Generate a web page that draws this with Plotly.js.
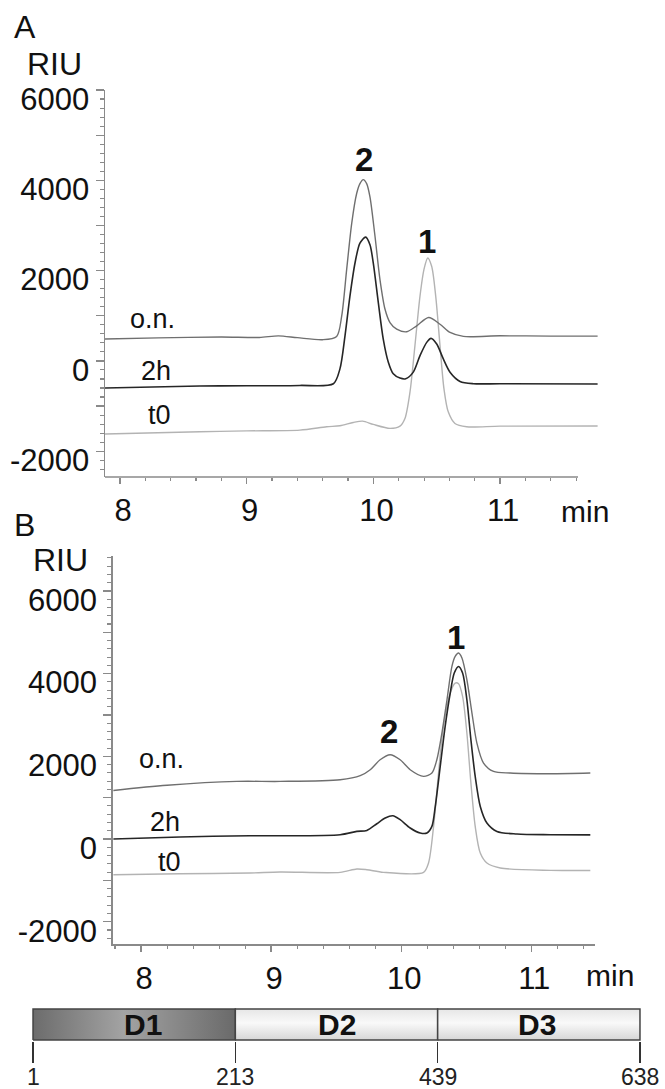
<!DOCTYPE html>
<html>
<head>
<meta charset="utf-8">
<script src="https://cdn.plot.ly/plotly-3.0.1.min.js"></script>
<style>html,body{margin:0;padding:0;background:#fff;}#chart{width:665px;height:1089px;}</style>
</head>
<body>
<div id="chart"></div>
<script>
// ---------- Panel A data (time in min, signal in RIU) ----------
var tA_on = [7.88, 8.3, 8.8, 9.1, 9.25, 9.4, 9.6, 9.71, 9.75, 9.789, 9.829, 9.868, 9.894, 9.92, 9.947, 9.973, 10.013, 10.052, 10.092, 10.131, 10.184, 10.263, 10.342, 10.436, 10.526, 10.605, 10.71, 11.0, 11.4, 11.77];
var vA_on = [484, 510, 530, 520, 555, 515, 470, 543, 996, 2022, 3048, 3707, 3927, 4015, 3927, 3634, 2755, 1802, 1143, 850, 703, 645, 777, 960, 813, 630, 543, 556, 550, 550];

var tA_2h = [7.88, 8.63, 9.0, 9.42, 9.684, 9.736, 9.776, 9.815, 9.855, 9.894, 9.939, 9.973, 9.999, 10.039, 10.078, 10.118, 10.157, 10.21, 10.255, 10.315, 10.368, 10.421, 10.455, 10.5, 10.552, 10.605, 10.684, 10.789, 11.0, 11.77];
var vA_2h = [-600, -556, -550, -543, -505, -176, 556, 1435, 2169, 2609, 2741, 2572, 2169, 1290, 484, -29, -286, -381, -396, -249, 117, 411, 499, 374, 44, -249, -454, -505, -505, -510];

var tA_t0 = [7.88, 8.63, 9.0, 9.42, 9.631, 9.736, 9.841, 9.915, 9.999, 10.131, 10.21, 10.249, 10.289, 10.328, 10.368, 10.399, 10.429, 10.46, 10.492, 10.526, 10.557, 10.591, 10.644, 10.736, 11.0, 11.77];
var vA_t0 = [-1620, -1568, -1550, -1532, -1458, -1436, -1363, -1334, -1407, -1495, -1444, -1275, -689, 337, 1435, 2022, 2279, 2095, 1435, 337, -615, -1128, -1385, -1458, -1444, -1440];

// ---------- Panel B data ----------
var tB_on = [7.787, 8.2, 8.736, 9.069, 9.531, 9.685, 9.762, 9.838, 9.915, 9.992, 10.069, 10.172, 10.236, 10.274, 10.313, 10.352, 10.39, 10.415, 10.441, 10.467, 10.505, 10.544, 10.582, 10.633, 10.71, 10.838, 11.146, 11.454];
var vB_on = [1175, 1300, 1393, 1393, 1434, 1531, 1676, 1917, 2038, 1917, 1676, 1514, 1596, 1917, 2563, 3368, 4174, 4415, 4498, 4377, 3852, 3047, 2321, 1838, 1635, 1596, 1579, 1596];

var tB_2h = [7.787, 8.3, 8.838, 9.069, 9.531, 9.659, 9.736, 9.813, 9.877, 9.936, 9.992, 10.069, 10.146, 10.198, 10.236, 10.262, 10.3, 10.338, 10.377, 10.408, 10.441, 10.472, 10.505, 10.536, 10.569, 10.608, 10.659, 10.736, 10.89, 11.146, 11.454];
var vB_2h = [0, 50, 80, 80, 104, 184, 208, 370, 508, 563, 467, 266, 145, 145, 305, 788, 1755, 2723, 3530, 4014, 4174, 4014, 3368, 2401, 1514, 788, 387, 184, 121, 104, 100];

var tB_t0 = [7.787, 8.3, 8.838, 9.069, 9.531, 9.659, 9.736, 9.864, 10.172, 10.21, 10.249, 10.287, 10.325, 10.377, 10.415, 10.441, 10.472, 10.505, 10.536, 10.569, 10.608, 10.659, 10.762, 11.146, 11.454];
var vB_t0 = [-863, -840, -822, -798, -806, -725, -742, -806, -806, -580, 305, 1596, 2723, 3530, 3772, 3755, 3448, 2563, 1354, 305, -339, -580, -701, -759, -760];

// ---------- Tick labels ----------
var xTickVals = [8, 9, 10, 11];
var yTickVals = [-2000, -1000, 0, 1000, 2000, 3000, 4000, 5000, 6000];
var yTickText = ['-2000', '', '0', '', '2000', '', '4000', '', '6000'];

// ---------- Domain bar ----------
var domainNames = ['D1', 'D2', 'D3'];
var domainBounds = ['1', '213', '439', '638'];

var W = 665, H = 1089;
function px(x) { return x / W; }
function py(y) { return 1 - y / H; }

var FONT = 'Liberation Sans, Arial, Helvetica, sans-serif';
var C_ON = '#6f6f6f', C_2H = '#262626', C_T0 = '#b3b3b3';

var traces = [];
function line(t, v, color, w, xa, ya) {
  return {x: t, y: v, xaxis: xa, yaxis: ya, type: 'scatter', mode: 'lines',
    line: {color: color, width: w, shape: 'spline', smoothing: 0.8},
    hoverinfo: 'skip', showlegend: false};
}
traces.push(line(tA_t0, vA_t0, C_T0, 1.4, 'x', 'y'));
traces.push(line(tA_on, vA_on, C_ON, 1.4, 'x', 'y'));
traces.push(line(tA_2h, vA_2h, C_2H, 1.6, 'x', 'y'));
traces.push(line(tB_t0, vB_t0, C_T0, 1.4, 'x2', 'y2'));
traces.push(line(tB_on, vB_on, C_ON, 1.4, 'x2', 'y2'));
traces.push(line(tB_2h, vB_2h, C_2H, 1.6, 'x2', 'y2'));

// domain boxes
var grads = [
  {type: 'horizontal', colorscale: [[0, '#6c6c6c'], [0.45, '#a3a3a3'], [1, '#6a6a6a']]},
  {type: 'vertical', colorscale: [[0, '#d6d6d6'], [0.55, '#f9f9f9'], [1, '#e6e6e6']]},
  {type: 'vertical', colorscale: [[0, '#d6d6d6'], [0.55, '#f9f9f9'], [1, '#e6e6e6']]}
];
domainNames.forEach(function (n, i) {
  traces.push({
    x: [i - 0.5, i + 0.5, i + 0.5, i - 0.5, i - 0.5], y: [0, 0, 1, 1, 0],
    xaxis: 'x3', yaxis: 'y3', type: 'scatter', mode: 'lines', fill: 'toself',
    fillgradient: grads[i], fillcolor: i === 0 ? '#8a8a8a' : '#efefef',
    line: {color: '#444', width: 1.5}, hoverinfo: 'skip', showlegend: false
  });
});

var tickFont = {family: FONT, size: 31, color: '#111'};
function xax(domain, range) {
  return {domain: domain, range: range, showgrid: false, zeroline: false,
    showline: true, linecolor: '#8a8a8a', linewidth: 1.5,
    tickmode: 'array', tickvals: xTickVals, ticks: 'outside', ticklen: 6,
    tickcolor: '#8a8a8a', tickwidth: 1.3, tickfont: tickFont,
    ticklabelshift: 3, ticklabelstandoff: 0,
    minor: {tickmode: 'linear', tick0: 0, dtick: 0.2, ticks: 'outside', ticklen: 3,
      tickcolor: '#8a8a8a', tickwidth: 1.1, showgrid: false}};
}
function yax(domain, range, anchor) {
  return {domain: domain, range: range, anchor: anchor, showgrid: false, zeroline: false,
    showline: true, linecolor: '#8a8a8a', linewidth: 1.5,
    tickmode: 'array', tickvals: yTickVals, ticktext: yTickText,
    ticks: 'outside', ticklen: 8, tickcolor: '#8a8a8a', tickwidth: 1.3,
    tickfont: tickFont, ticklabelshift: 9, ticklabelstandoff: 0,
    minor: {tickmode: 'linear', tick0: 0, dtick: 200, ticks: 'outside', ticklen: 4,
      tickcolor: '#8a8a8a', tickwidth: 1.1, showgrid: false}};
}

var xA = xax([px(105), px(598)], [7.8816, 11.773]);
xA.showline = false;
xA.anchor = 'y';
var xB = xax([px(112.7), px(595)], [7.782, 11.49]);
xB.anchor = 'y2';

function ann(text, x, y, size, bold, extra) {
  var a = {text: bold ? '<b>' + text + '</b>' : text, x: px(x), y: py(y), xref: 'paper', yref: 'paper',
    xanchor: 'center', yanchor: 'middle', showarrow: false,
    font: {family: FONT, size: size, color: '#111'}};
  if (extra) for (var k in extra) a[k] = extra[k];
  return a;
}

var annotations = [
  ann('A', 12, 27, 32, false, {xanchor: 'left'}),
  ann('RIU', 54, 64, 32),
  ann('B', 12, 525, 32, false, {xanchor: 'left'}),
  ann('RIU', 60, 560, 32),
  ann('min', 585, 512, 30),
  ann('min', 610, 975, 30),
  ann('o.n.', 152, 319, 27),
  ann('2h', 156, 371, 27),
  ann('t0', 159, 415, 27),
  ann('o.n.', 161, 759, 27),
  ann('2h', 164.5, 822, 27),
  ann('t0', 169.5, 862, 27),
  ann('2', 364, 160, 33, true),
  ann('1', 427, 241, 33, true),
  ann('2', 389, 731, 33, true),
  ann('1', 456, 637, 33, true)
];
var dShift = [9, 0, -2];
domainNames.forEach(function (n, i) {
  annotations.push({text: '<b>' + n + '</b>', x: i, y: 0.5, xref: 'x3', yref: 'y3',
    xshift: dShift[i], xanchor: 'center', yanchor: 'middle', showarrow: false,
    font: {family: FONT, size: 30, color: '#111'}});
});
domainBounds.forEach(function (b, i) {
  annotations.push({text: b, x: i - 0.5, y: py(1077), xref: 'x3', yref: 'paper',
    xanchor: 'center', yanchor: 'middle', showarrow: false,
    font: {family: FONT, size: 23, color: '#222'}});
});

var layout = {
  width: W, height: H, margin: {l: 0, r: 0, t: 0, b: 0},
  paper_bgcolor: '#fff', plot_bgcolor: 'rgba(0,0,0,0)', showlegend: false,
  xaxis: xA,
  yaxis: yax([py(477), py(90)], [-2571, 6000], 'x'),
  xaxis2: xB,
  yaxis2: yax([py(944), py(556)], [-2539, 6845], 'x2'),
  xaxis3: {domain: [px(31), px(642)], range: [-0.51, 2.51], anchor: 'y3',
    showgrid: false, zeroline: false, showline: false,
    tickmode: 'array', tickvals: [-0.5, 0.5, 1.5, 2.5], showticklabels: false,
    ticks: 'outside', ticklen: 21, tickcolor: '#333', tickwidth: 1.5},
  yaxis3: {domain: [py(1041), py(1008)], range: [-0.03, 1.03], anchor: 'x3', visible: false},
  shapes: [
    {type: 'line', xref: 'x domain', yref: 'y domain', x0: 0, x1: (578 - 105) / (598 - 105), y0: 0, y1: 0,
      line: {color: '#8a8a8a', width: 1.5}}
  ],
  annotations: annotations
};

Plotly.newPlot('chart', traces, layout, {staticPlot: true, displayModeBar: false});
</script>
</body>
</html>
